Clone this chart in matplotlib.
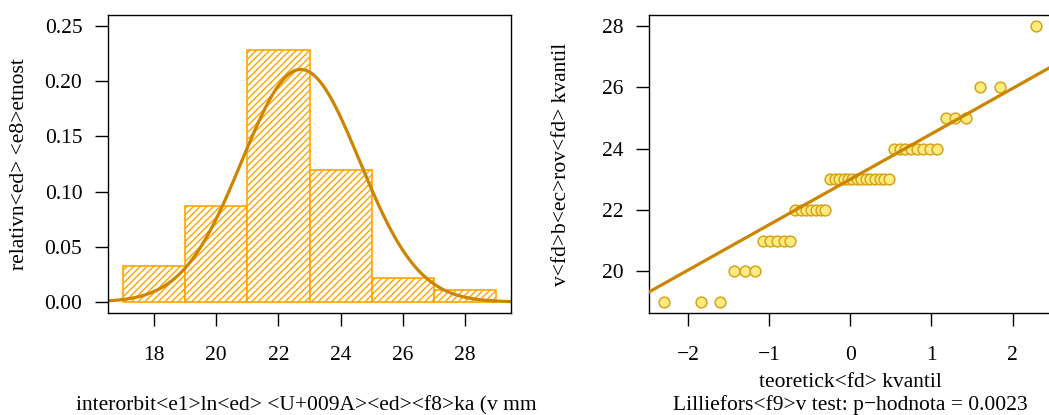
import numpy as np
import matplotlib
matplotlib.use("Agg")
import matplotlib.pyplot as plt
from matplotlib.ticker import FormatStrFormatter
from statistics import NormalDist

# interorbital width values (mm) and how often each occurs
width_values = [19, 20, 21, 22, 23, 24, 25, 26, 28]
width_counts = [3, 3, 5, 7, 14, 8, 3, 2, 1]

# histogram breaks
bin_edges = [17, 19, 21, 23, 25, 27, 29]

hist_xticks = [18, 20, 22, 24, 26, 28]
hist_yticks = [0.00, 0.05, 0.10, 0.15, 0.20, 0.25]
qq_xticks = [-2, -1, 0, 1, 2]
qq_yticks = [20, 22, 24, 26, 28]

p_value = "0.0023"

hist_label = "interorbit<e1>ln<ed> <U+009A><ed><f8>ka (v mm"
hist_ylabel = "relativn<ed> <e8>etnost"
qq_xlabel = "teoretick<fd> kvantil"
qq_ylabel = "v<fd>b<ec>rov<fd> kvantil"
qq_sub = "Lilliefors<f9>v test: p\u2212hodnota = " + p_value

plt.rcParams['font.family'] = ['Liberation Serif', 'DejaVu Serif']
plt.rcParams['hatch.linewidth'] = 1.0
plt.rcParams['axes.unicode_minus'] = True

data = np.repeat(width_values, width_counts)
n = len(data)
edges = np.array(bin_edges, dtype=float)

# right-closed bins like R's hist()
idx = np.searchsorted(edges, data, side='left') - 1
idx[idx < 0] = 0
counts = np.bincount(idx, minlength=len(edges) - 1)
density = counts / (n * np.diff(edges))

mean = data.mean()
sd = data.std(ddof=1)
nd = NormalDist(mean, sd)

W, H = 1049, 415
fig = plt.figure(figsize=(W / 100, H / 100), dpi=100)


def px_axes(x0, x1, y0, y1):
    return fig.add_axes([x0 / W, 1 - y1 / H, (x1 - x0) / W, (y1 - y0) / H])


def r_style(ax):
    for s in ax.spines.values():
        s.set_linewidth(1.0)
    ax.tick_params(direction='out', length=9.5, width=1.0, labelsize=15.5)
    ax.tick_params(axis='x', pad=14)
    ax.tick_params(axis='y', pad=9)


# ---- histogram ----
ax1 = px_axes(108, 511, 15, 313)
ax1.bar(edges[:-1], density, width=np.diff(edges), align='edge',
        facecolor='white', edgecolor='#FFA500', hatch='/////', linewidth=1.2)
span = edges[-1] - edges[0]
ax1.set_xlim(edges[0] - 0.04 * span, edges[-1] + 0.04 * span)
ax1.set_ylim(-0.01, 0.26)
xs = np.linspace(*ax1.get_xlim(), 400)
ax1.plot(xs, [nd.pdf(v) for v in xs], color='#CD8500', lw=2.3)
ax1.set_xticks(hist_xticks)
ax1.set_yticks(hist_yticks)
ax1.yaxis.set_major_formatter(FormatStrFormatter('%.2f'))
r_style(ax1)

# ---- QQ plot ----
ax2 = px_axes(649, 1051.4, 15, 313)
probs = (np.arange(1, n + 1) - 0.5) / n
theo = np.array([NormalDist().inv_cdf(p) for p in probs])
sample = np.sort(data)
ax2.scatter(theo, sample, s=60, facecolor='#FFEC80', edgecolor='#D9A21B',
            linewidth=1.1, zorder=2)
y1, y3 = np.quantile(data, [0.25, 0.75])
x1, x3 = NormalDist().inv_cdf(0.25), NormalDist().inv_cdf(0.75)
slope = (y3 - y1) / (x3 - x1)
ax2.axline((0, y1 - slope * x1), slope=slope, color='#CD8500', lw=2.3, zorder=3)
xr = theo.max() - theo.min()
yr = sample.max() - sample.min()
ax2.set_xlim(theo.min() - 0.04 * xr, theo.max() + 0.04 * xr)
ax2.set_ylim(sample.min() - 0.04 * yr, sample.max() + 0.04 * yr)
ax2.set_xticks(qq_xticks)
ax2.set_yticks(qq_yticks)
r_style(ax2)

# ---- labels ----
fs = 15.5
fig.text(306 / W, 1 - 410 / H, hist_label, ha='center', va='baseline', fontsize=fs)
fig.text(20 / W, 1 - 164 / H, hist_ylabel, ha='center', va='center', rotation=90, fontsize=fs)
fig.text(850 / W, 1 - 387 / H, qq_xlabel, ha='center', va='baseline', fontsize=fs)
fig.text(850 / W, 1 - 410 / H, qq_sub, ha='center', va='baseline', fontsize=fs)
fig.text(562 / W, 1 - 164 / H, qq_ylabel, ha='center', va='center', rotation=90, fontsize=fs)

fig.savefig("out.png", dpi=100)
